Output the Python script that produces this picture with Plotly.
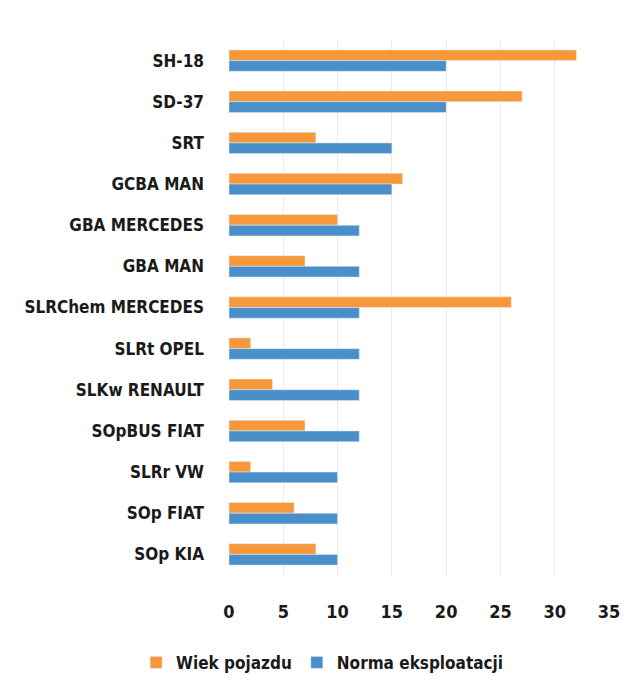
import plotly.graph_objects as go

categories = ["SH-18", "SD-37", "SRT", "GCBA MAN", "GBA MERCEDES", "GBA MAN",
              "SLRChem MERCEDES", "SLRt OPEL", "SLKw RENAULT", "SOpBUS FIAT",
              "SLRr VW", "SOp FIAT", "SOp KIA"]
wiek_pojazdu = [32, 27, 8, 16, 10, 7, 26, 2, 4, 7, 2, 6, 8]
norma_eksploatacji = [20, 20, 15, 15, 12, 12, 12, 12, 12, 12, 10, 10, 10]
x_ticks = [0, 5, 10, 15, 20, 25, 30, 35]

FONT = "DejaVu Sans Condensed"

fig = go.Figure()
fig.add_trace(go.Bar(y=categories, x=wiek_pojazdu, orientation="h",
                     name="Wiek pojazdu", marker_color="#F7993A"))
fig.add_trace(go.Bar(y=categories, x=norma_eksploatacji, orientation="h",
                     name="Norma eksploatacji", marker_color="#4A8FC9"))

fig.update_layout(
    width=641, height=693,
    barmode="group", bargap=0.48, bargroupgap=0,
    paper_bgcolor="white", plot_bgcolor="white",
    margin=dict(l=221, r=40, t=32, b=126),
    font=dict(family=FONT, size=17, color="#1a1a1a"),
    xaxis=dict(range=[0, 35], tickvals=x_ticks, showgrid=True, automargin=False,
               gridcolor="#e6ebf0", gridwidth=1, zeroline=False,
               ticklabelstandoff=24, tickfont=dict(family=FONT, size=18, weight="bold")),
    yaxis=dict(autorange="reversed", showgrid=False, ticks="", automargin=False,
               ticklabelstandoff=24,
               tickfont=dict(family=FONT, size=17, weight="bold")),
    legend=dict(orientation="h", xref="container", yref="container",
                x=0.49, xanchor="center", y=0.055, yanchor="middle",
                font=dict(family=FONT, size=17, weight="bold"),
                itemwidth=30, traceorder="normal"),
)

fig.write_html("out.html")
